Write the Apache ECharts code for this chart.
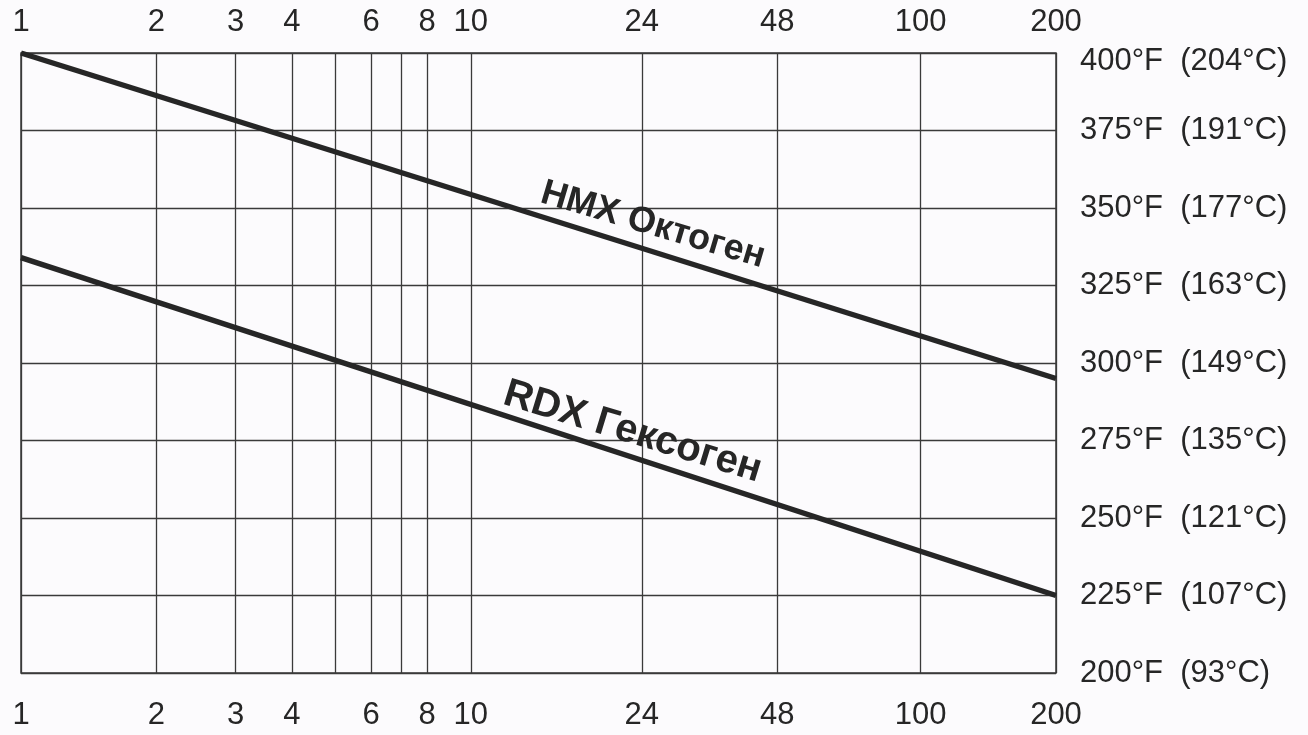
<!DOCTYPE html>
<html>
<head>
<meta charset="utf-8">
<script src="https://cdn.jsdelivr.net/npm/echarts@6/dist/echarts.min.js"></script>
<style>
html,body{margin:0;padding:0;background:#fcfbfd;}
#chart{width:1308px;height:735px;}
</style>
</head>
<body>
<div id="chart"></div>
<script>
// Hours (log scale) and temperatures
var hours = [1, 200];
var hmxTemps = [400, 295];
var rdxTemps = [334, 225];
var gridHours = [1, 2, 3, 4, 5, 6, 7, 8, 10, 24, 48, 100, 200];
var labelHours = [1, 2, 3, 4, 6, 8, 10, 24, 48, 100, 200];
var tempTicksF = [200, 225, 250, 275, 300, 325, 350, 375, 400];
var tempTicksC = [93, 107, 121, 135, 149, 163, 177, 191, 204];
var hmxName = 'HMX Октоген';
var rdxName = 'RDX Гексоген';

var ink = '#262626';
var gridInk = '#3a3a3a';
var sans = "'Liberation Sans', Arial, sans-serif";

function pairs(xs, ys) { return xs.map(function (x, i) { return [x, ys[i]]; }); }

function xAxisDef(pos, margin, showGrid) {
  return {
    type: 'log', logBase: 10, min: 1, max: 200, position: pos,
    axisLine: { show: false },
    axisTick: { show: false, customValues: gridHours },
    splitLine: { show: showGrid, lineStyle: { color: gridInk, width: 1.3 } },
    axisLabel: {
      customValues: labelHours,
      margin: margin,
      color: ink,
      fontSize: 31,
      fontFamily: sans,
      formatter: function (v) { return String(Math.round(v)); }
    }
  };
}

var chart = echarts.init(document.getElementById('chart'));
chart.setOption({
  backgroundColor: '#fcfbfd',
  animation: false,
  grid: { left: 21, right: 252, top: 53, bottom: 62, show: true, borderColor: gridInk, borderWidth: 1.5, backgroundColor: 'transparent' },
  xAxis: [xAxisDef('bottom', 27, true), xAxisDef('top', 15, false)],
  yAxis: {
    type: 'value', min: 200, max: 400, interval: 25, position: 'right',
    axisLine: { show: false }, axisTick: { show: false },
    splitLine: { show: true, lineStyle: { color: gridInk, width: 1.3 } },
    axisLabel: {
      margin: 24,
      color: ink,
      fontSize: 31,
      fontFamily: sans,
      formatter: function (v) {
        var i = tempTicksF.indexOf(v);
        var s = v + '°F  (' + tempTicksC[i] + '°C)';
        return v === 400 ? '{top|' + s + '}' : s;
      },
      rich: { top: { fontSize: 31, padding: [16, 0, 0, 0], color: ink, fontFamily: sans } }
    }
  },
  series: [
    {
      name: hmxName, type: 'line', data: pairs(hours, hmxTemps), symbol: 'none',
      lineStyle: { color: ink, width: 5.5 }, z: 5,
      markPoint: {
        symbol: 'circle', symbolSize: 0,
        data: [{ coord: [25.4, 344.5], value: hmxName }],
        label: { show: true, position: 'inside', formatter: hmxName, rotate: -16.5, fontSize: 36, fontWeight: 'bold', color: ink, fontFamily: sans }
      }
    },
    {
      name: rdxName, type: 'line', data: pairs(hours, rdxTemps), symbol: 'none',
      lineStyle: { color: ink, width: 5.5 }, z: 5,
      markPoint: {
        symbol: 'circle', symbolSize: 0,
        data: [{ coord: [22.9, 277.7], value: rdxName }],
        label: { show: true, position: 'inside', formatter: rdxName, rotate: -17, fontSize: 40, fontWeight: 'bold', color: ink, fontFamily: sans }
      }
    }
  ]
});
</script>
</body>
</html>
